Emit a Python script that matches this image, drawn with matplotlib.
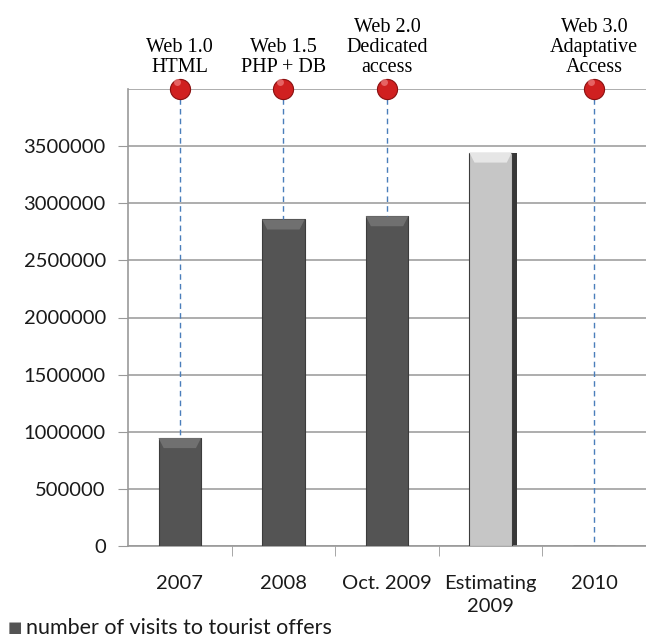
import numpy as np
import matplotlib.pyplot as plt

categories = ['2007', '2008', 'Oct. 2009', 'Estimating\n2009', '2010']
visits = [945000, 2858000, 2887000, 3444000, 0]
bar_colors = ['#545454', '#545454', '#545454', '#c6c6c6', '#545454']

milestone_idx = [0, 1, 2, 4]
milestone_labels = ['Web 1.0\nHTML', 'Web 1.5\nPHP + DB', 'Web 2.0\nDedicated\naccess',
                    'Web 3.0\nAdaptative\nAccess']
yticks = [0, 500000, 1000000, 1500000, 2000000, 2500000, 3000000, 3500000]
ymax = 4000000

fig = plt.figure(figsize=(6.46, 6.37), dpi=100)
ax = fig.add_axes([128 / 646, 91 / 637, 518 / 646, 457 / 637])

x = np.arange(len(categories))
w = 0.41
# shadow behind the light bar
for i, v in enumerate(visits):
    if v > 0 and bar_colors[i] != '#545454':
        ax.bar(x[i] + 0.045, v, w, color='#383838', zorder=2)
ax.bar(x, visits, w, color=bar_colors, edgecolor='#3c3c3c', linewidth=0.8, zorder=3)
# bevel on top of each bar
bev_h = ymax * 0.022
bev_d = w * 0.12
for i, v in enumerate(visits):
    if v > 0:
        hi = '#707070' if bar_colors[i] == '#545454' else '#e6e6e6'
        xs = [x[i] - w / 2, x[i] + w / 2, x[i] + w / 2 - bev_d, x[i] - w / 2 + bev_d]
        ys = [v, v, v - bev_h, v - bev_h]
        ax.fill(xs, ys, color=hi, zorder=4, linewidth=0)

# milestones
for i, lab in zip(milestone_idx, milestone_labels):
    ax.plot([x[i], x[i]], [ymax, visits[i]], color='#4a7ebb', linestyle=(0, (4, 3)),
            linewidth=1, zorder=5, clip_on=False)
    ax.plot(x[i], ymax, 'o', markersize=14.5, markerfacecolor='#d02020',
            markeredgecolor='#8a1010', markeredgewidth=0.8, zorder=6, clip_on=False)
    ax.plot(x[i] - 0.03, ymax + 60000, 'o', markersize=5, markerfacecolor='#f08080',
            markeredgewidth=0, zorder=7, clip_on=False, alpha=0.7)
    ax.annotate(lab, (x[i], ymax), xytext=(0, 9), textcoords='offset points',
                ha='center', va='bottom', fontsize=14.5, family='Liberation Serif',
                linespacing=1.05, annotation_clip=False)

ax.set_xlim(-0.5, -0.5 + 518 / 105)
ax.set_ylim(0, ymax)
ax.set_yticks(yticks)
ax.set_yticklabels([str(t) for t in yticks])
ax.set_xticks(x)
ax.set_xticklabels(categories, linespacing=1.4)
ax.set_xticks(np.arange(len(categories)) + 0.5, minor=True)
ax.tick_params(axis='x', which='major', length=0, pad=21, labelsize=14.5)
ax.tick_params(axis='x', which='minor', length=7, color='#999999', direction='out')
ax.tick_params(axis='y', length=7, color='#999999', pad=9, labelsize=14.5)
for lab in ax.get_xticklabels() + ax.get_yticklabels():
    lab.set_family('Lato')
    lab.set_color('#1a1a1a')

ax.set_yticks([ymax], minor=True)
ax.grid(axis='y', which='both', color='#a0a0a0', linewidth=1.2, zorder=0)
ax.tick_params(axis='y', which='minor', length=0)
ax.set_axisbelow(True)
for s in ['top', 'right']:
    ax.spines[s].set_visible(False)
for s in ['left', 'bottom']:
    ax.spines[s].set_color('#999999')
    ax.spines[s].set_linewidth(1.2)

fig.text(8 / 646, 1 - 628 / 637, '\u25a0', fontsize=11, color='#545454', va='center')
fig.text(26 / 646, 1 - 628 / 637, 'number of visits to tourist offers', fontsize=15.5,
         family='Lato', va='center', color='#1a1a1a')

fig.savefig('out.png', dpi=100)
